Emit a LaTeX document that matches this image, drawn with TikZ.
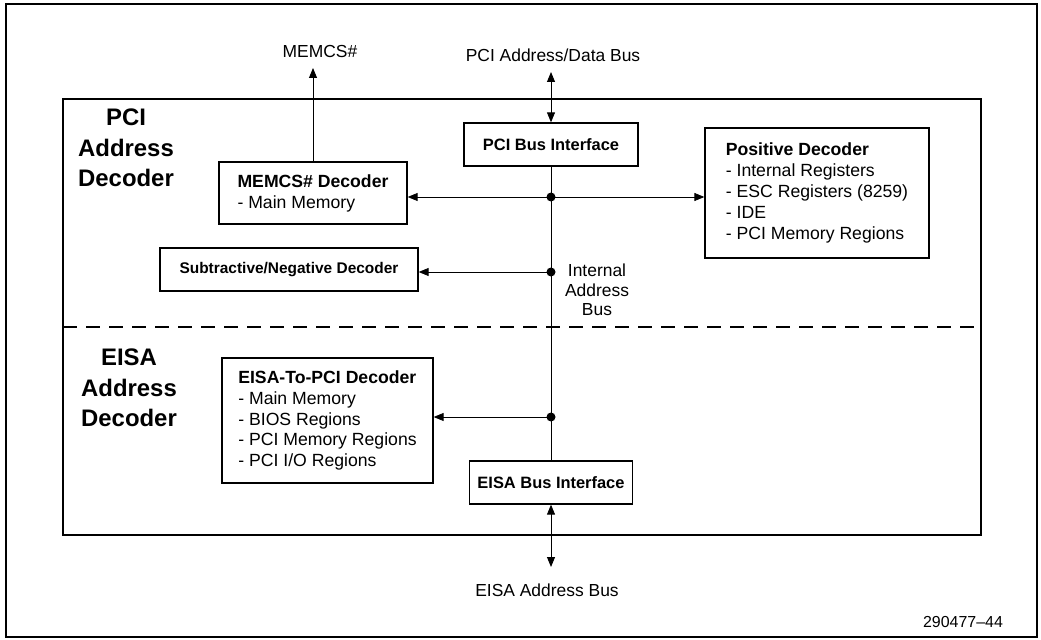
\documentclass[tikz,border=0pt]{standalone}
\usepackage{fontspec}
\setmainfont{Liberation Sans}
\usetikzlibrary{arrows.meta}
\begin{document}
\begin{tikzpicture}[x=1bp,y=-1bp,
  box/.style={draw, line width=1.3bp, inner sep=0pt, font=\fontsize{16.5}{21}\selectfont\bfseries},
  lst/.style={draw, line width=1.3bp, inner sep=0pt, align=left, font=\fontsize{17.7}{21}\selectfont},
  lbl/.style={font=\fontsize{17.5}{20}\selectfont, inner sep=0pt},
  big/.style={font=\fontsize{24}{30.5}\selectfont\bfseries, align=center, inner sep=0pt},
  conn/.style={line width=0.9bp, -{Triangle[length=10bp,width=8bp]}},
  dconn/.style={line width=0.9bp, {Triangle[length=10bp,width=8bp]}-{Triangle[length=10bp,width=8bp]}},
  dot/.style={circle, fill, inner sep=0pt, minimum size=9bp},
  frame/.style={line width=1.3bp}
]
\useasboundingbox[fill=white] (0,0) rectangle (1041,640);
\draw[frame] (6,4) rectangle (1037,637);
\draw[frame] (63,99) rectangle (981,535);
\draw[line width=1.1bp, dash pattern=on 14bp off 9bp] (63,327) -- (981,327);

% labels
\node[big] (pcilab) at (126,148) {PCI\\Address\\Decoder};
\node[big] (eisalab) at (129,388) {EISA\\Address\\Decoder};
\node[lbl] (memlab) at (320,52) {MEMCS\#};
\node[lbl] (pcibus) at (553,55) {PCI Address/Data Bus};
\node[lbl] (eisabus) at (547,590) {EISA Address Bus};
\node[lbl, align=center, font=\fontsize{17.5}{19.5}\selectfont] (iab) at (597,290) {Internal\\Address\\Bus};
\node[lbl, font=\fontsize{16}{18}\selectfont] (fig) at (963,622) {290477--44};

% boxes
\node[box, minimum width=174bp, minimum height=43bp] (pcibi) at (551,144.5) {PCI Bus Interface};
\node[box, minimum width=163bp, minimum height=43bp] (eisabi) at (551,482.5) {EISA Bus Interface};
\node[lst, minimum width=188bp, minimum height=62bp] (memcs) at (313,193) {\textbf{MEMCS\# Decoder}\\- Main Memory};
\node[box, minimum width=258bp, minimum height=43bp, font=\fontsize{15.5}{18}\selectfont\bfseries] (sub) at (289,269.5) {Subtractive/Negative Decoder};
\node[lst, minimum width=224bp, minimum height=130bp] (pos) at (817,193) {\textbf{Positive Decoder}\\- Internal Registers\\- ESC Registers (8259)\\- IDE\\- PCI Memory Regions};
\node[lst, minimum width=211bp, minimum height=125bp] (e2p) at (327.5,420.5) {\textbf{EISA-To-PCI Decoder}\\- Main Memory\\- BIOS Regions\\- PCI Memory Regions\\- PCI I/O Regions};

% bus
\draw[line width=0.9bp] (pcibi.south) -- (eisabi.north);
\node[dot] (j1) at (551,197) {};
\node[dot] (j2) at (551,272) {};
\node[dot] (j3) at (551,417) {};

\coordinate (memtip) at (313,68);
\coordinate (pcitip) at (551,72);
\coordinate (eisatip) at (551,567);

\draw[conn] (memcs.north) -- (memtip);
\draw[dconn] (pcibi.north) -- (pcitip);
\draw[dconn] (eisabi.south) -- (eisatip);
\draw[conn] (j1.center) -- (j1 -| memcs.east);
\draw[conn] (j1.center) -- (j1 -| pos.west);
\draw[conn] (j2.center) -- (j2 -| sub.east);
\draw[conn] (j3.center) -- (j3 -| e2p.east);
\end{tikzpicture}
\end{document}
